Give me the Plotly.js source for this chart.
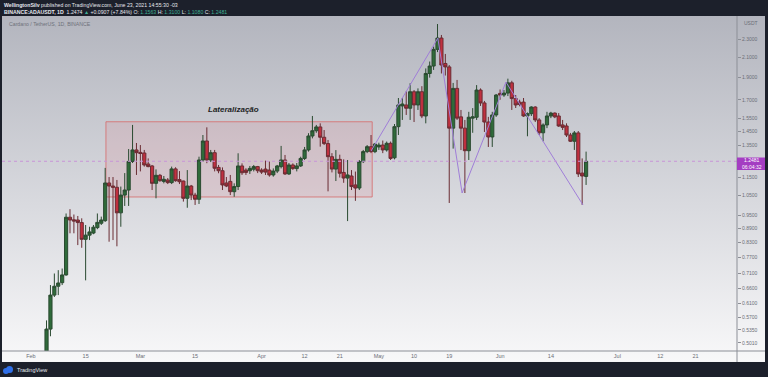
<!DOCTYPE html>
<html><head><meta charset="utf-8">
<script src="https://cdn.plot.ly/plotly-3.0.1.min.js"></script>
<style>html,body{margin:0;padding:0;background:#1c202b;overflow:hidden}#chart{width:768px;height:377px;}</style>
</head><body><div id="chart"></div>
<script>
const dates = [
'2021-02-05','2021-02-06','2021-02-07','2021-02-08','2021-02-09','2021-02-10','2021-02-11','2021-02-12','2021-02-13','2021-02-14','2021-02-15','2021-02-16','2021-02-17','2021-02-18','2021-02-19','2021-02-20','2021-02-21','2021-02-22','2021-02-23','2021-02-24','2021-02-25','2021-02-26','2021-02-27','2021-02-28',
'2021-03-01','2021-03-02','2021-03-03','2021-03-04','2021-03-05','2021-03-06','2021-03-07','2021-03-08','2021-03-09','2021-03-10','2021-03-11','2021-03-12','2021-03-13','2021-03-14','2021-03-15','2021-03-16','2021-03-17','2021-03-18','2021-03-19','2021-03-20','2021-03-21','2021-03-22','2021-03-23','2021-03-24','2021-03-25','2021-03-26','2021-03-27','2021-03-28','2021-03-29','2021-03-30','2021-03-31',
'2021-04-01','2021-04-02','2021-04-03','2021-04-04','2021-04-05','2021-04-06','2021-04-07','2021-04-08','2021-04-09','2021-04-10','2021-04-11','2021-04-12','2021-04-13','2021-04-14','2021-04-15','2021-04-16','2021-04-17','2021-04-18','2021-04-19','2021-04-20','2021-04-21','2021-04-22','2021-04-23','2021-04-24','2021-04-25','2021-04-26','2021-04-27','2021-04-28','2021-04-29','2021-04-30',
'2021-05-01','2021-05-02','2021-05-03','2021-05-04','2021-05-05','2021-05-06','2021-05-07','2021-05-08','2021-05-09','2021-05-10','2021-05-11','2021-05-12','2021-05-13','2021-05-14','2021-05-15','2021-05-16','2021-05-17','2021-05-18','2021-05-19','2021-05-20','2021-05-21','2021-05-22','2021-05-23','2021-05-24','2021-05-25','2021-05-26','2021-05-27','2021-05-28','2021-05-29','2021-05-30','2021-05-31',
'2021-06-01','2021-06-02','2021-06-03','2021-06-04','2021-06-05','2021-06-06','2021-06-07','2021-06-08','2021-06-09','2021-06-10','2021-06-11','2021-06-12','2021-06-13','2021-06-14','2021-06-15','2021-06-16','2021-06-17','2021-06-18','2021-06-19','2021-06-20','2021-06-21','2021-06-22','2021-06-23'];

const opens = [
0.468,0.537,0.637,0.666,0.678,0.705,0.942,0.930,0.929,0.917,0.843,0.861,0.870,0.894,0.914,0.926,1.119,1.102,1.095,0.963,1.053,1.080,1.247,1.321,
1.305,1.301,1.231,1.219,1.117,1.163,1.128,1.136,1.121,1.201,1.138,1.130,1.036,1.102,1.053,1.031,1.256,1.382,1.256,1.303,1.210,1.190,1.119,1.128,1.071,1.099,1.219,1.194,1.190,1.199,1.215,
1.194,1.200,1.194,1.165,1.188,1.215,1.256,1.171,1.225,1.203,1.219,1.266,1.321,1.417,1.455,1.483,1.408,1.364,1.277,1.200,1.260,1.180,1.147,1.159,1.108,1.091,1.246,1.310,1.343,1.310,
1.341,1.354,1.321,1.366,1.270,1.485,1.648,1.656,1.629,1.770,1.656,1.770,1.567,1.940,2.014,2.190,2.318,2.040,2.005,1.474,1.800,1.560,1.474,1.316,1.550,1.557,1.785,1.673,1.520,1.410,1.575,
1.755,1.741,1.758,1.851,1.710,1.680,1.680,1.567,1.585,1.639,1.536,1.440,1.498,1.567,1.590,1.567,1.498,1.490,1.424,1.380,1.439,1.176,1.1563];

const highs = [
0.561,0.670,0.710,0.722,0.728,0.960,0.981,0.955,0.948,0.937,0.906,0.898,0.906,0.960,0.945,1.207,1.153,1.153,1.136,1.099,1.176,1.327,1.498,1.368,
1.354,1.321,1.266,1.225,1.198,1.171,1.159,1.147,1.215,1.211,1.188,1.132,1.194,1.108,1.065,1.277,1.424,1.480,1.321,1.321,1.225,1.210,1.153,1.165,1.117,1.299,1.235,1.205,1.219,1.225,1.219,
1.205,1.252,1.246,1.204,1.225,1.348,1.288,1.237,1.235,1.237,1.277,1.341,1.437,1.567,1.498,1.510,1.460,1.389,1.300,1.320,1.290,1.260,1.256,1.194,1.185,1.256,1.321,1.354,1.424,1.368,
1.370,1.385,1.378,1.378,1.505,1.715,1.715,1.773,1.847,1.785,1.800,1.820,1.990,2.060,2.220,2.487,2.354,2.140,2.024,1.850,1.878,1.615,1.536,1.600,1.630,1.830,1.800,1.690,1.560,1.600,1.750,
1.790,1.785,1.890,1.870,1.741,1.700,1.715,1.595,1.645,1.645,1.550,1.510,1.600,1.600,1.595,1.590,1.536,1.510,1.439,1.453,1.453,1.266,1.3100];

const lows = [
0.455,0.518,0.631,0.637,0.670,0.702,0.869,0.869,0.819,0.808,0.686,0.840,0.865,0.887,0.906,0.920,0.833,0.840,0.814,0.898,0.997,0.997,1.237,1.165,
1.186,1.215,1.211,1.080,1.036,1.126,1.117,1.113,1.113,1.126,1.113,1.019,0.988,1.027,1.002,1.007,1.245,1.236,1.243,1.186,1.175,1.080,1.096,1.053,1.044,1.080,1.165,1.165,1.171,1.186,1.176,
1.171,1.165,1.155,1.155,1.176,1.204,1.165,1.165,1.195,1.186,1.213,1.256,1.310,1.400,1.440,1.343,1.354,1.073,1.180,1.130,1.150,1.120,0.924,1.080,1.023,1.080,1.237,1.300,1.300,1.300,
1.321,1.300,1.310,1.256,1.260,1.424,1.536,1.575,1.536,1.520,1.615,1.550,1.510,1.900,1.975,2.160,1.940,1.920,1.012,1.330,1.536,1.320,1.064,1.256,1.440,1.536,1.648,1.446,1.341,1.341,1.560,
1.700,1.725,1.732,1.615,1.631,1.645,1.560,1.415,1.567,1.520,1.424,1.380,1.474,1.550,1.550,1.483,1.460,1.410,1.375,1.321,1.153,1.002,1.1080];

const closes = [
0.537,0.637,0.666,0.677,0.705,0.942,0.929,0.924,0.917,0.843,0.861,0.875,0.896,0.918,0.929,1.119,1.102,1.095,0.963,1.053,1.080,1.247,1.321,1.303,
1.298,1.225,1.215,1.117,1.163,1.132,1.140,1.121,1.201,1.132,1.126,1.036,1.102,1.053,1.031,1.256,1.382,1.256,1.303,1.205,1.190,1.108,1.102,1.071,1.099,1.219,1.178,1.180,1.204,1.215,1.190,
1.182,1.182,1.165,1.188,1.219,1.256,1.171,1.225,1.203,1.219,1.266,1.321,1.417,1.455,1.483,1.408,1.364,1.277,1.200,1.260,1.175,1.147,1.165,1.099,1.091,1.246,1.310,1.343,1.310,1.361,
1.354,1.321,1.366,1.266,1.485,1.656,1.664,1.629,1.770,1.656,1.770,1.567,1.940,2.014,2.190,2.318,2.024,2.005,1.474,1.800,1.550,1.474,1.316,1.557,1.560,1.785,1.673,1.520,1.410,1.575,1.741,
1.741,1.758,1.851,1.710,1.656,1.660,1.567,1.585,1.639,1.536,1.440,1.498,1.567,1.590,1.560,1.490,1.480,1.424,1.380,1.439,1.171,1.159,1.2481];

const xTickVals = ['2021-02-01','2021-02-15','2021-03-01','2021-03-15','2021-04-01','2021-04-12','2021-04-21','2021-05-01','2021-05-10','2021-05-19','2021-06-01','2021-06-14','2021-07-01','2021-07-12','2021-07-21'];
const xTickText = ['Feb','15','Mar','15','Apr','12','21','May','10','19','Jun','14','Jul','12','21'];
const yTickVals = [2.3,2.1,1.9,1.7,1.55,1.45,1.35,1.15,1.05,0.95,0.89,0.83,0.77,0.71,0.66,0.61,0.57,0.535,0.501];
const yTickText = ['2.3000','2.1000','1.9000','1.7000','1.5500','1.4500','1.3500','1.1500','1.0500','0.9500','0.8900','0.8300','0.7700','0.7100','0.6600','0.6100','0.5700','0.5350','0.5010'];

const lastPrice = 1.2481;
const countdown = '06:04:32';
const boxX = ['2021-02-20 04:40','2021-04-29 07:00'];
const boxY = [1.043, 1.522];
const boxLabel = 'Lateralização';
const boxLabelPos = ['2021-03-24 17:00', 1.615];
const zigX = ['2021-04-29 00:00','2021-05-16 02:00','2021-05-22 07:00','2021-06-02 12:00','2021-06-22 05:00'];
const zigY = [1.314, 2.318, 1.064, 1.858, 1.002];

// pixel -> paper helpers (plot area x 2..737, y 16..351)
const px = x => (x - 2) / 735;
const py = y => (351 - y) / 335;

const teal = '#3fae94';
const gradSvg = "<svg xmlns='http://www.w3.org/2000/svg' width='10' height='100' preserveAspectRatio='none'><defs><linearGradient id='g' x1='0' y1='0' x2='0' y2='1'><stop offset='0' stop-color='#b3b5be'/><stop offset='0.55' stop-color='#d9dadf'/><stop offset='1' stop-color='#f8f8f9'/></linearGradient></defs><rect width='10' height='100' fill='url(#g)'/></svg>";

const traces = [
 {type:'candlestick', x:dates, open:opens, high:highs, low:lows, close:closes,
  increasing:{line:{color:'#2a4a30', width:1}, fillcolor:'#2f6b3a'},
  decreasing:{line:{color:'#6a2c33', width:1}, fillcolor:'#c0303f'},
  whiskerwidth:0, hoverinfo:'skip', showlegend:false},
 {type:'scatter', mode:'lines', x:zigX, y:zigY, line:{color:'#a07ed8', width:1},
  hoverinfo:'skip', showlegend:false}
];

const font = 'Liberation Sans, Arial, sans-serif';
const layout = {
 width:768, height:377,
 margin:{l:2, r:31, t:16, b:26, pad:0},
 paper_bgcolor:'#1c202b', plot_bgcolor:'rgba(0,0,0,0)',
 showlegend:false,
 boxgap:0.1, boxgroupgap:0.1,
 font:{family:font},
 xaxis:{type:'date', range:['2021-01-24 14:38','2021-07-31 14:24'],
  rangeslider:{visible:false}, tickmode:'array', tickvals:xTickVals, ticktext:xTickText,
  tickfont:{size:5.5, color:'#6b6e77', family:font}, showgrid:false, zeroline:false, showline:false,
  ticks:'', fixedrange:true},
 yaxis:{type:'log', side:'right', range:[-0.31786, 0.41323], tickmode:'array',
  tickvals:yTickVals, ticktext:yTickText, tickfont:{size:5, color:'#6b6e77', family:font},
  ticks:'outside', ticklen:3, tickcolor:'#8c8f97', showgrid:false, zeroline:false, showline:false, fixedrange:true},
 images:[{source:'data:image/svg+xml;charset=utf-8,' + encodeURIComponent(gradSvg),
  xref:'paper', yref:'paper', x:0, y:1, sizex:1.0381, sizey:1.0328,
  xanchor:'left', yanchor:'top', sizing:'stretch', layer:'below'}],
 shapes:[
  {type:'rect', xref:'x', yref:'y', x0:boxX[0], x1:boxX[1], y0:boxY[0], y1:boxY[1],
   fillcolor:'rgba(226,120,132,0.16)', line:{color:'rgba(214,112,112,0.85)', width:1}, layer:'below'},
  {type:'line', xref:'paper', yref:'y', x0:0, x1:1, y0:lastPrice, y1:lastPrice,
   line:{color:'#c894d8', width:1, dash:'dot'}},
  {type:'line', xref:'paper', yref:'paper', x0:1, x1:1, y0:-0.0328, y1:1, line:{color:'#8c8f97', width:1}},
  {type:'line', xref:'paper', yref:'paper', x0:0, x1:1.0381, y0:0, y1:0, line:{color:'#8c8f97', width:1}},
  {type:'rect', xref:'paper', yref:'paper', x0:1, x1:1.0381, y0:py(170), y1:py(157.5),
   fillcolor:'#a43dc2', line:{width:0}},
  {type:'circle', xref:'paper', yref:'paper', x0:px(3), x1:px(9), y0:py(374), y1:py(368), fillcolor:'#2f6fe8', line:{width:0}},
  {type:'circle', xref:'paper', yref:'paper', x0:px(6), x1:px(13), y0:py(373), y1:py(366), fillcolor:'#2f6fe8', line:{width:0}}
 ],
 annotations:[
  {xref:'paper', yref:'paper', x:px(2), y:py(5), xanchor:'left', yanchor:'middle', showarrow:false,
   text:'<b>WellingtonSilv</b> published on TradingView.com, June 23, 2021 14:55:30 -03',
   font:{size:5.2, color:'#e6e8ee', family:font}},
  {xref:'paper', yref:'paper', x:px(2), y:py(12), xanchor:'left', yanchor:'middle', showarrow:false,
   text:'<b>BINANCE:ADAUSDT, 1D</b>  1.2474 <span style="color:'+teal+'">▲</span> +0.0907 (+7.84%) O: <span style="color:'+teal+'">1.1563</span> H: <span style="color:'+teal+'">1.3100</span> L: <span style="color:'+teal+'">1.1080</span> C: <span style="color:'+teal+'">1.2481</span>',
   font:{size:5.2, color:'#e6e8ee', family:font}},
  {xref:'paper', yref:'paper', x:px(7), y:py(24), xanchor:'left', yanchor:'middle', showarrow:false,
   text:'Cardano / TetherUS, 1D, BINANCE', font:{size:5.2, color:'#6e717a', family:font}},
  {xref:'paper', yref:'paper', x:px(742), y:py(23), xanchor:'left', yanchor:'middle', showarrow:false,
   text:'USDT', font:{size:5, color:'#6b6e77', family:font}},
  {xref:'x', yref:'y', x:boxLabelPos[0], y:Math.log10(boxLabelPos[1]), xanchor:'center', yanchor:'middle', showarrow:false,
   text:'<b><i>'+boxLabel+'</i></b>', font:{size:8, color:'#1e1f24', family:font}},
  {xref:'paper', yref:'paper', x:px(740), y:py(163.8), xanchor:'left', yanchor:'middle', showarrow:false,
   text:lastPrice.toFixed(4)+'<br>'+countdown, font:{size:5, color:'#ffffff', family:font}},
  {xref:'paper', yref:'paper', x:px(15), y:py(370), xanchor:'left', yanchor:'middle', showarrow:false,
   text:'TradingView', font:{size:5.5, color:'#e6e8ee', family:font}}
 ]
};

Plotly.newPlot('chart', traces, layout, {staticPlot:true, displayModeBar:false});
</script>
</body></html>
